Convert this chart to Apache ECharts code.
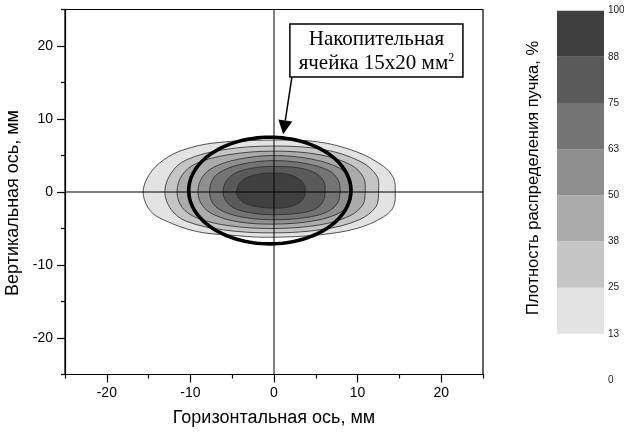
<!DOCTYPE html>
<html>
<head>
<meta charset="utf-8">
<script src="https://cdn.jsdelivr.net/npm/echarts@6/dist/echarts.min.js"></script>
<style>
  html, body { margin: 0; padding: 0; background: #fff; }
  #chart { width: 624px; height: 433px; }
</style>
</head>
<body>
<div id="chart"></div>
<script>
// Beam density levels, % (band i spans levels[i]..levels[i+1])
const levels = [0, 12.5, 25, 37.5, 50, 62.5, 75, 87.5, 100];
const bandColors = [null, '#e3e3e3', '#c5c5c5', '#ababab', '#8f8f8f', '#747474', '#5a5a5a', '#404040'];

// Iso-density contours, [x, y] in mm, traced clockwise from the left tip
const contour13 = [[-15.65,0],[-14.85,2.5],[-13.2,4.4],[-10.9,5.75],[-7.3,6.7],[-1,7.1],[5.1,6.9],[9.9,5.5],[13.1,3.5],[14.3,1.9],[14.5,0],[14.3,-2.0],[13.1,-3.4],[9.9,-5.0],[5.1,-5.9],[-1,-6.2],[-5.3,-5.9],[-9.3,-5.4],[-13.25,-3.8],[-14.85,-2.5]];
const contour25 = [[-13.05,0],[-12.3,2.6],[-10.5,4.4],[-6,5.8],[0,6.3],[6,5.8],[10.3,4.2],[12.3,2.2],[12.5,0],[12.2,-2.0],[10.2,-3.8],[6,-5.1],[0,-5.6],[-6,-5.2],[-10.5,-4.0],[-12.3,-2.4]];
const contour38 = [[-11.6,0],[-11,2.3],[-9.3,3.9],[-5.5,5.1],[0,5.6],[5.5,5.1],[9.2,3.7],[10.7,2.0],[10.9,0],[10.6,-1.8],[9.0,-3.3],[5.5,-4.5],[0,-5.0],[-5.5,-4.6],[-9.3,-3.5],[-11,-2.1]];
const contour50 = [[-9.1,0],[-8.6,2.0],[-7.2,3.4],[-4.2,4.5],[0,5.0],[4.5,4.5],[7.8,3.3],[9.1,1.8],[9.3,0],[9.0,-1.6],[7.6,-3.0],[4.5,-4.0],[0,-4.4],[-4.2,-4.1],[-7.2,-3.1],[-8.6,-1.8]];
const contour63 = [[-7.7,0],[-7.3,1.8],[-6,3.0],[-3.5,3.9],[0,4.3],[3.8,3.9],[6.6,2.9],[7.7,1.6],[7.9,0],[7.6,-1.5],[6.4,-2.7],[3.8,-3.5],[0,-3.8],[-3.5,-3.5],[-6,-2.7],[-7.3,-1.6]];
const contour75 = [[-6.1,0],[-5.7,1.5],[-4.6,2.6],[-2.5,3.3],[0,3.5],[3,3.3],[5.1,2.5],[6.0,1.3],[6.1,0],[5.9,-1.2],[5.0,-2.3],[3,-2.9],[0,-3.1],[-2.5,-2.9],[-4.6,-2.3],[-5.7,-1.3]];
const contour88 = [[-4.5,0],[-4.1,1.2],[-3.2,2.0],[-1.5,2.5],[0,2.6],[1.8,2.4],[3.2,1.6],[3.7,0.7],[3.7,0],[3.6,-0.7],[3.0,-1.5],[1.5,-2.1],[0,-2.2],[-1.5,-2.1],[-3.2,-1.7],[-4.1,-1.0]];
const contours = [contour13, contour25, contour38, contour50, contour63, contour75, contour88];

// Storage cell outline: centre (mm), full width and height (mm)
const cellCenter = [-0.5, 0.2];
const cellSize = [19.4, 14.6];

// Annotation box corners (mm) and arrow tip (mm)
const noteBox = [1.9, 23.0, 22.6, 15.75];
const noteArrowTip = [1.1, 7.9];
const noteLines = ['Накопительная', 'ячейка 15x20 мм', '2'];

// Axis ticks
const majorTicks = [-20, -10, 0, 10, 20];
const minorTicks = [-25, -15, -5, 5, 15, 25];
const crossH = [[-25, 0], [25, 0]];
const crossV = [[0, -25], [0, 25]];

const chart = echarts.init(document.getElementById('chart'), null, { renderer: 'canvas' });

const axisFont = { fontFamily: 'Liberation Sans, Arial, sans-serif', color: '#000' };

function mainAxis(extra) {
  return Object.assign({
    gridIndex: 0, type: 'value', min: -25, max: 25,
    axisLine: { show: true, onZero: false, lineStyle: { color: '#000', width: 1.2 } },
    axisTick: { show: true, inside: false, length: 8, customValues: majorTicks, lineStyle: { color: '#000', width: 1.2 } },
    axisLabel: { show: true, customValues: majorTicks, margin: 12, fontSize: 14, ...axisFont },
    splitLine: { show: false }
  }, extra);
}
function minorAxis(extra) {
  return Object.assign({
    gridIndex: 0, type: 'value', min: -25, max: 25,
    axisLine: { show: false, onZero: false },
    axisTick: { show: true, inside: false, length: 4, customValues: minorTicks, lineStyle: { color: '#000', width: 1.2 } },
    axisLabel: { show: false },
    splitLine: { show: false }
  }, extra);
}

const option = {
  animation: false,
  backgroundColor: '#fff',
  grid: [
    { left: 65, top: 9.5, right: 141, bottom: 58.5, show: true, borderColor: '#000', borderWidth: 1.2,
      backgroundColor: 'transparent', outerBoundsMode: 'none', containLabel: false },
    { left: 557, top: 10.7, right: 20, bottom: 53, outerBoundsMode: 'none', containLabel: false }
  ],
  xAxis: [
    mainAxis({ position: 'bottom', name: 'Горизонтальная ось, мм', nameLocation: 'middle', nameGap: 35,
      nameTextStyle: { fontSize: 18, ...axisFont } }),
    minorAxis({ position: 'bottom' }),
    { gridIndex: 1, type: 'value', min: 0, max: 1, show: false }
  ],
  yAxis: [
    mainAxis({ position: 'left', name: 'Вертикальная ось, мм', nameLocation: 'middle', nameGap: 40,
      nameRotate: 90, nameTextStyle: { fontSize: 18, padding: [0, 22, 0, 0], ...axisFont } }),
    minorAxis({ position: 'left' }),
    {
      gridIndex: 1, type: 'value', min: 0, max: 100, interval: 12.5, position: 'right',
      axisLine: { show: false }, axisTick: { show: false }, splitLine: { show: false },
      axisLabel: { margin: 4, fontSize: 10, color: '#222', fontFamily: 'Liberation Sans, Arial, sans-serif',
        formatter: v => String(Math.round(v)) }
    }
  ],
  graphic: [{
    type: 'text', x: 533, y: 178, rotation: Math.PI / 2,
    style: { text: 'Плотность распределения пучка, %', font: '16.5px "Liberation Sans", Arial, sans-serif',
      fill: '#000', align: 'center', verticalAlign: 'middle' }
  }],
  series: [
    {
      // filled iso-density bands, outermost first
      type: 'custom', xAxisIndex: 0, yAxisIndex: 0, clip: true, z: 2,
      data: contours.map((c, i) => [i]),
      renderItem: (params, api) => {
        const i = api.value(0);
        const pts = contours[i].map(p => api.coord(p));
        return {
          type: 'polygon',
          shape: { points: pts, smooth: 0.35 },
          style: { fill: bandColors[i + 1], stroke: '#2a2a2a', lineWidth: 0.8 }
        };
      }
    },
    { type: 'line', xAxisIndex: 0, yAxisIndex: 0, data: crossH, symbol: 'none', z: 3,
      lineStyle: { color: '#000', width: 1 }, silent: true },
    { type: 'line', xAxisIndex: 0, yAxisIndex: 0, data: crossV, symbol: 'none', z: 3,
      lineStyle: { color: '#000', width: 1 }, silent: true },
    {
      // storage cell outline
      type: 'custom', xAxisIndex: 0, yAxisIndex: 0, clip: true, z: 4,
      data: [[cellCenter[0], cellCenter[1], cellSize[0], cellSize[1]]],
      renderItem: (params, api) => {
        const cx = api.value(0), cy = api.value(1), rx = api.value(2) / 2, ry = api.value(3) / 2;
        const pts = [];
        for (let k = 0; k < 120; k++) {
          const t = k / 120 * Math.PI * 2;
          pts.push(api.coord([cx + rx * Math.cos(t), cy + ry * Math.sin(t)]));
        }
        return { type: 'polygon', shape: { points: pts },
          style: { fill: 'none', stroke: '#000', lineWidth: 3.6 } };
      }
    },
    {
      // annotation box with arrow
      type: 'custom', xAxisIndex: 0, yAxisIndex: 0, clip: false, z: 5,
      data: [[noteBox[0], noteBox[1], noteBox[2], noteBox[3], noteArrowTip[0], noteArrowTip[1]]],
      renderItem: (params, api) => {
        const tl = api.coord([api.value(0), api.value(1)]);
        const br = api.coord([api.value(2), api.value(3)]);
        const tip = api.coord([api.value(4), api.value(5)]);
        const start = [tl[0] + 2, br[1]];
        const dx = tip[0] - start[0], dy = tip[1] - start[1];
        const len = Math.hypot(dx, dy), ux = dx / len, uy = dy / len;
        const hl = 14, hw = 7;
        const base = [tip[0] - ux * hl, tip[1] - uy * hl];
        return {
          type: 'group',
          children: [
            { type: 'line', shape: { x1: start[0], y1: start[1], x2: base[0], y2: base[1] },
              style: { stroke: '#000', lineWidth: 1.5 } },
            { type: 'polygon', shape: { points: [tip, [base[0] - uy * hw, base[1] + ux * hw], [base[0] + uy * hw, base[1] - ux * hw]] },
              style: { fill: '#000' } },
            { type: 'rect', shape: { x: tl[0], y: tl[1], width: br[0] - tl[0], height: br[1] - tl[1] },
              style: { fill: '#fff', stroke: '#000', lineWidth: 1.5 } },
            { type: 'text', x: (tl[0] + br[0]) / 2, y: (tl[1] + br[1]) / 2 + 1,
              style: {
                text: '{m|' + noteLines[0] + '}\n{m|' + noteLines[1] + '}{s|' + noteLines[2] + '}',
                align: 'center', verticalAlign: 'middle', fill: '#000',
                rich: {
                  m: { fontFamily: 'Liberation Serif, Times New Roman, serif', fontSize: 21, lineHeight: 24, fill: '#000' },
                  s: { fontFamily: 'Liberation Serif, Times New Roman, serif', fontSize: 12, lineHeight: 24, fill: '#000', verticalAlign: 'top', padding: [0, 0, 12, 0] }
                }
              } }
          ]
        };
      }
    },
    {
      // colour scale
      type: 'custom', xAxisIndex: 2, yAxisIndex: 2, z: 2,
      data: levels.slice(0, -1).map((lo, i) => [i, lo, levels[i + 1]]),
      renderItem: (params, api) => {
        const i = api.value(0);
        if (!bandColors[i]) return null;
        const p1 = api.coord([0, api.value(2)]);
        const p2 = api.coord([1, api.value(1)]);
        return { type: 'rect', shape: { x: p1[0], y: p1[1], width: p2[0] - p1[0], height: p2[1] - p1[1] },
          style: { fill: bandColors[i] } };
      }
    }
  ]
};

chart.setOption(option);
</script>
</body>
</html>
